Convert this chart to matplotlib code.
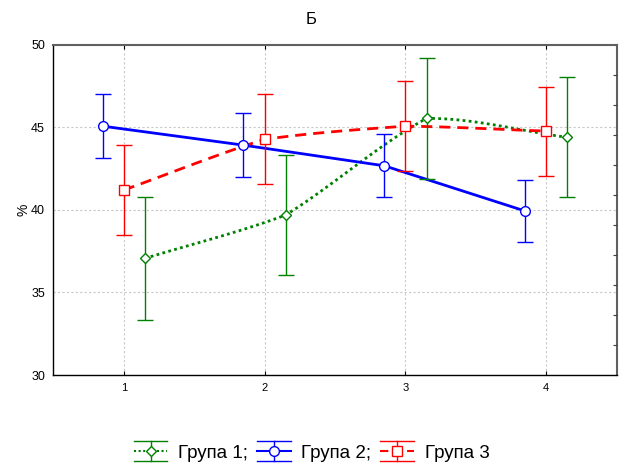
import numpy as np
import matplotlib
matplotlib.use("Agg")
import matplotlib.pyplot as plt
from matplotlib.lines import Line2D
from matplotlib.legend_handler import HandlerBase

plt.rcParams['font.family'] = ['Liberation Sans', 'DejaVu Sans']

categories = [1, 2, 3, 4]
group_names = ["Група 1;", "Група 2;", "Група 3"]
g1_mean = [37.06, 39.69, 45.54, 44.39]
g1_err = [3.7, 3.65, 3.65, 3.63]
g2_mean = [45.07, 43.92, 42.67, 39.93]
g2_err = [1.92, 1.92, 1.92, 1.9]
g3_mean = [41.2, 44.27, 45.07, 44.77]
g3_err = [2.72, 2.72, 2.72, 2.7]


def smooth_path(x, y, tension=0.35, n=40):
    """Hermite curve through the points with damped Catmull-Rom tangents."""
    x = np.asarray(x, float)
    y = np.asarray(y, float)
    k = len(x)
    m = np.zeros(k)
    for i in range(k):
        if i == 0:
            m[i] = (y[1] - y[0]) / (x[1] - x[0])
        elif i == k - 1:
            m[i] = (y[-1] - y[-2]) / (x[-1] - x[-2])
        else:
            m[i] = (y[i + 1] - y[i - 1]) / (x[i + 1] - x[i - 1])
    xs, ys = [], []
    for i in range(k - 1):
        h = x[i + 1] - x[i]
        sec = (y[i + 1] - y[i]) / h
        m0 = sec + tension * (m[i] - sec)
        m1 = sec + tension * (m[i + 1] - sec)
        t = np.linspace(0, 1, n)
        h00 = 2 * t ** 3 - 3 * t ** 2 + 1
        h10 = t ** 3 - 2 * t ** 2 + t
        h01 = -2 * t ** 3 + 3 * t ** 2
        h11 = t ** 3 - t ** 2
        xs.append(x[i] + t * h)
        ys.append(h00 * y[i] + h10 * h * m0 + h01 * y[i + 1] + h11 * h * m1)
    return np.concatenate(xs), np.concatenate(ys)


fig = plt.figure(figsize=(6.23, 4.71), dpi=100)
ax = fig.add_axes([0.0856, 0.2038, 0.9043, 0.7012])

x = np.array(categories, float)
x1 = x + 0.15
x2 = x - 0.15
x3 = x

green = '#008000'
blue = '#0000ff'
red = '#ff0000'

# lines
sx, sy = smooth_path(x1, g1_mean)
ax.plot(sx, sy, color=green, lw=2, ls=(0, (1, 1.2)), zorder=3)
ax.plot(x2, g2_mean, color=blue, lw=2, ls='-', zorder=3)
sx, sy = smooth_path(x3, g3_mean)
ax.plot(sx, sy, color=red, lw=2, ls=(0, (4, 2.5)), zorder=3)

# error bars + markers
ax.errorbar(x1, g1_mean, yerr=g1_err, fmt='D', ms=5.5, mfc='white', mec=green,
            mew=1, ecolor=green, elinewidth=1, capsize=5.5, capthick=1,
            color=green, zorder=4)
ax.errorbar(x2, g2_mean, yerr=g2_err, fmt='o', ms=7, mfc='white', mec=blue,
            mew=1, ecolor=blue, elinewidth=1, capsize=5.5, capthick=1,
            color=blue, zorder=4)
ax.errorbar(x3, g3_mean, yerr=g3_err, fmt='s', ms=7, mfc='white', mec=red,
            mew=1, ecolor=red, elinewidth=1, capsize=5.5, capthick=1,
            color=red, zorder=4)

ax.set_xlim(0.5, 4.5)
ax.set_ylim(30, 50)
ax.set_xticks(categories)
ax.set_yticks([30, 35, 40, 45, 50])
ax.tick_params(axis='x', direction='in', top=True, bottom=True, length=3,
               labelsize=8, pad=6)
ax.tick_params(axis='y', length=0, labelsize=9, pad=6)
ax.grid(True, color='#c8c8c8', ls=(0, (2, 2)), lw=0.8)
ax.set_axisbelow(True)

for s in ['left', 'bottom']:
    ax.spines[s].set_color('black')
    ax.spines[s].set_linewidth(1)
for s in ['top', 'right']:
    ax.spines[s].set_color('#606060')
    ax.spines[s].set_linewidth(1.5)

ax2 = ax.twinx()
ax2.set_ylim(0, 11)
ax2.set_yticks(range(1, 11))
ax2.tick_params(axis='y', direction='in', length=3, labelright=False, color='#404040')
for s in ax2.spines.values():
    s.set_visible(False)

ax.set_ylabel('%', fontsize=10, labelpad=0)
fig.text(0.5, 0.958, 'Б', fontsize=12, ha='center', va='center')


class StatHandle:
    def __init__(self, color, ls, marker, ms):
        self.color = color
        self.ls = ls
        self.marker = marker
        self.ms = ms


class StatHandler(HandlerBase):
    def create_artists(self, legend, orig, xdescent, ydescent, width, height,
                       fontsize, trans):
        c = orig.color
        cy = height / 2 - ydescent
        x0 = -xdescent
        x1_ = x0 + width
        half = 7.2
        arts = [
            Line2D([x0, x1_], [cy, cy], color=c, lw=1.5, ls=orig.ls),
            Line2D([x0, x1_], [cy + half, cy + half], color=c, lw=1),
            Line2D([x0, x1_], [cy - half, cy - half], color=c, lw=1),
            Line2D([(x0 + x1_) / 2] * 2, [cy - half, cy + half], color=c, lw=1),
            Line2D([(x0 + x1_) / 2], [cy], marker=orig.marker, ms=orig.ms,
                   mfc='white', mec=c, mew=1, ls='none'),
        ]
        for a in arts:
            a.set_transform(trans)
        return arts


handles = [StatHandle(green, (0, (1, 1.2)), 'D', 5.5),
           StatHandle(blue, '-', 'o', 7),
           StatHandle(red, (0, (4, 2.5)), 's', 7)]
fig.legend(handles, group_names, loc='center', bbox_to_anchor=(0.5, 0.038),
           ncol=3, frameon=False, fontsize=13.5, handlelength=1.8, columnspacing=0.5,
           handletextpad=0.55, handler_map={StatHandle: StatHandler()})

fig.savefig('out.png', dpi=100)
